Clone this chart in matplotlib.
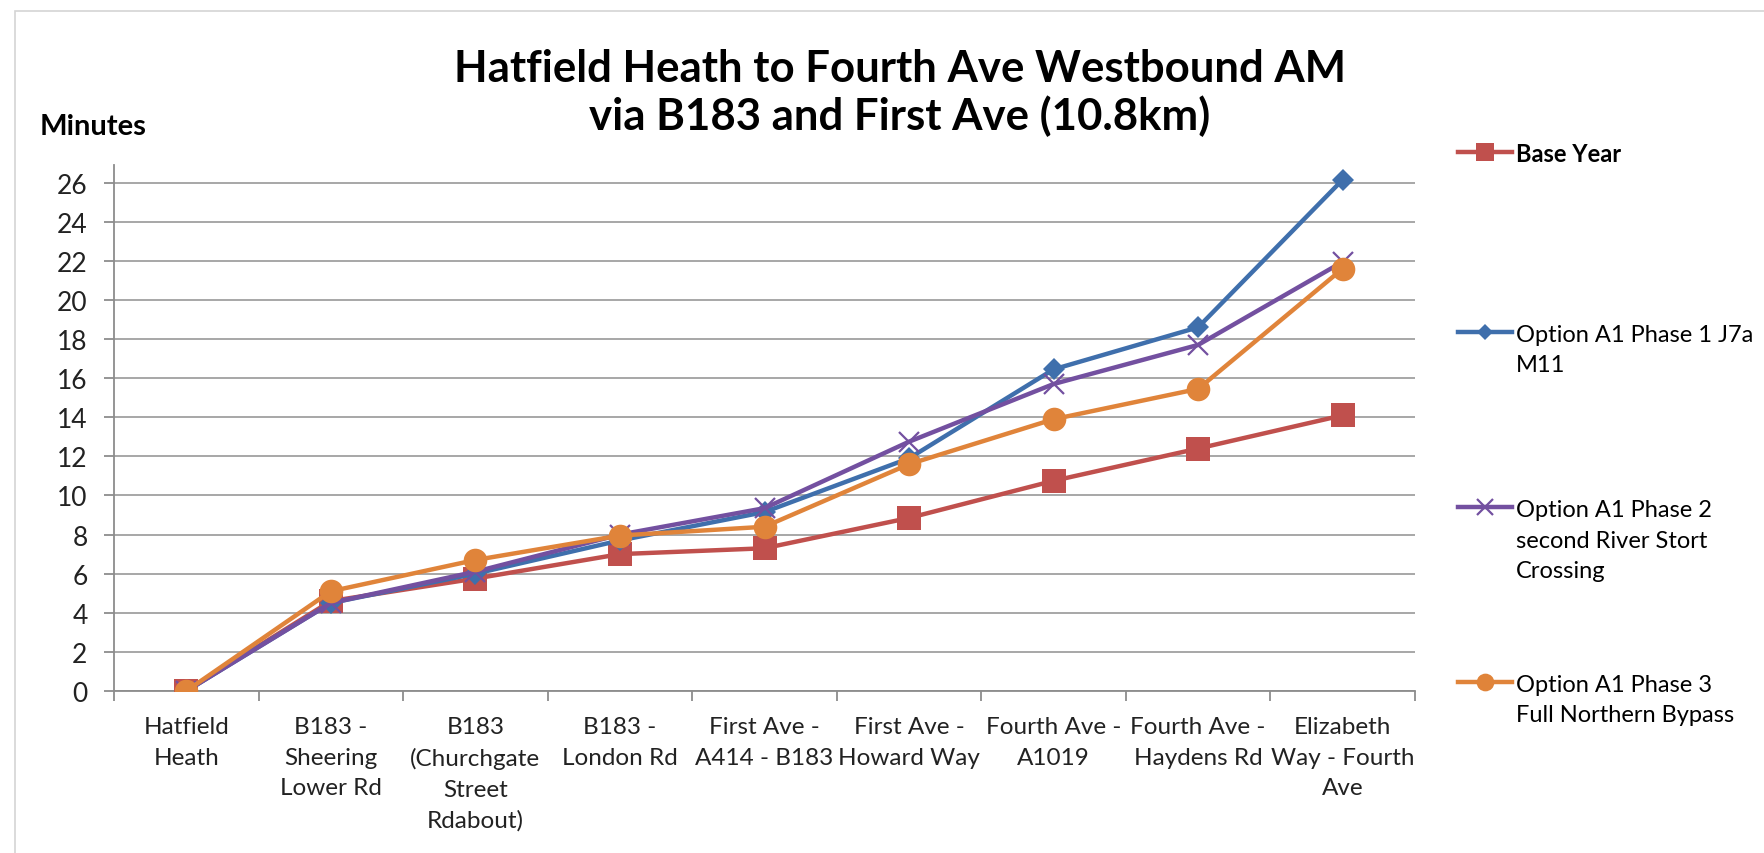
from matplotlib import pyplot as plt
from matplotlib.lines import Line2D
from matplotlib.patches import Rectangle
import numpy as np

## Data (minutes, cumulative)
stops = ['Hatfield\nHeath', 'B183 -\nSheering\nLower Rd', 'B183\n(Churchgate\nStreet\nRdabout)',
         'B183 -\nLondon Rd', 'First Ave -\nA414 - B183', 'First Ave -\nHoward Way',
         'Fourth Ave -\nA1019', 'Fourth Ave -\nHaydens Rd', 'Elizabeth\nWay - Fourth\nAve']

base_year = [0, 4.6, 5.75, 7.0, 7.3, 8.85, 10.75, 12.4, 14.1]
phase1 = [0, 4.5, 6.0, 7.7, 9.15, 11.9, 16.45, 18.6, 26.15]
phase2 = [0, 4.5, 6.1, 8.0, 9.35, 12.75, 15.7, 17.7, 21.95]
phase3 = [0, 5.1, 6.7, 7.95, 8.4, 11.6, 13.9, 15.45, 21.6]

series_names = ['Base Year', 'Option A1 Phase 1 J7a\nM11',
                'Option A1 Phase 2\nsecond River Stort\nCrossing',
                'Option A1 Phase 3\nFull Northern Bypass']

plt.rcParams['font.family'] = ['Lato', 'DejaVu Sans']

W, H = 1764, 854
fig = plt.figure(figsize=(W / 100, H / 100), dpi=100)

def fx(px):
	return px / W

def fy(py):
	return 1 - py / H

# chart area border
fig.add_artist(Rectangle((fx(15), fy(900)), fx(1800) - fx(15), fy(12) - fy(900),
                         transform=fig.transFigure, fill=False, edgecolor='#d4d4d4', lw=1.2))

ax = fig.add_axes([fx(114), fy(692), fx(1415) - fx(114), fy(166) - fy(692)])

styles = [
	dict(color='#C0504D', marker='s', ms=17, mew=0),
	dict(color='#3F6FAC', marker='D', ms=11.5, mew=0),
	dict(color='#7350A0', marker='x', ms=15, mew=1.6),
	dict(color='#E0843A', marker='o', ms=17, mew=0),
]
all_series = [base_year, phase1, phase2, phase3]
x = np.arange(len(stops))

for vals, st in zip(all_series, styles):
	ax.plot(x, vals, lw=3.2, solid_capstyle='round', **st, zorder=3)

ax.set_xlim(-0.5, len(stops) - 0.5)
ax.set_ylim(0, 26.9)
ax.set_yticks(np.arange(0, 27, 2))
ax.set_xticks(x)
ax.set_xticklabels(stops, linespacing=1.56)
ax.set_xticks(np.arange(-0.5, len(stops), 1), minor=True)

ax.grid(axis='y', color='#a0a0a0', lw=1.3, zorder=0)
for s in ['top', 'right']:
	ax.spines[s].set_visible(False)
for s in ['left', 'bottom']:
	ax.spines[s].set_color('#8c8c8c')
	ax.spines[s].set_linewidth(1.3)

ax.tick_params(axis='y', length=7, width=1.3, color='#8c8c8c', labelsize=19, pad=12, labelcolor='#222222')
ax.tick_params(axis='x', which='major', length=0, labelsize=17.5, pad=18, labelcolor='#222222')
ax.tick_params(axis='x', which='minor', length=7, width=1.3, color='#8c8c8c')

## Titles
fig.text(fx(900), fy(93), 'Hatfield Heath to Fourth Ave Westbound AM\nvia B183 and First Ave (10.8km)',
         ha='center', va='center', fontsize=31.5, fontweight='bold', linespacing=1.2)
fig.text(fx(40), fy(127), 'Minutes', ha='left', va='center', fontsize=21, fontweight='bold')

## Legend (manual, Excel style)
leg_y = [153, 333, 508, 683]
leg_step = 30.5
for name, st, ly in zip(series_names, styles, leg_y):
	st_leg = dict(st)
	st_leg['ms'] = st['ms'] * 0.75
	fig.add_artist(Line2D([fx(1458), fx(1485), fx(1512)], [fy(ly)] * 3, transform=fig.transFigure,
	                      lw=3.2, markevery=[1], **st_leg))
	for i, line in enumerate(name.split('\n')):
		fig.text(fx(1516), fy(ly + 9 + i * leg_step), line, ha='left', va='baseline', fontsize=17,
		         fontweight='bold' if name == 'Base Year' else 'normal')

fig.savefig('out.png', dpi=100)
